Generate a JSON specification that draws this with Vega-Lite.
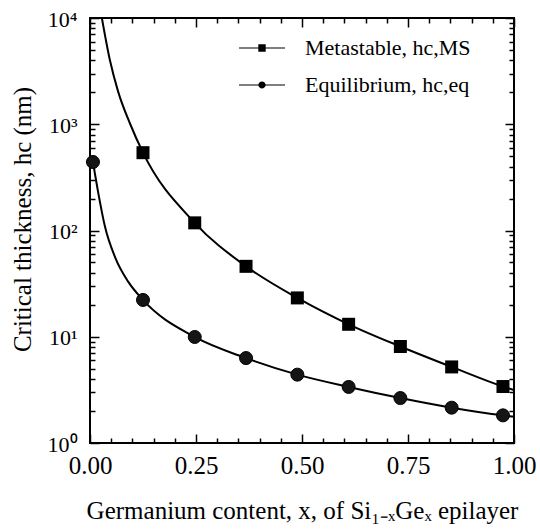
{
  "$schema": "https://vega.github.io/schema/vega-lite/v6.json",
  "width": 424,
  "height": 425,
  "autosize": {"type": "none"},
  "padding": {"left": 90, "top": 18, "right": 26, "bottom": 86},
  "background": "white",
  "config": {
    "view": {"stroke": "black", "strokeWidth": 2},
    "font": "Liberation Serif",
    "axis": {"domain": false, "grid": false, "tickColor": "black", "tickWidth": 1.5, "labelColor": "black", "titleColor": "black", "titleFontWeight": "normal", "labelFont": "Liberation Serif", "titleFont": "Liberation Serif"}
  },
  "datasets": {
    "curves": [
      {"series": "Metastable", "x": 0.028, "h": 10000},
      {"series": "Metastable", "x": 0.047, "h": 4000},
      {"series": "Metastable", "x": 0.066, "h": 2050},
      {"series": "Metastable", "x": 0.095, "h": 1000},
      {"series": "Metastable", "x": 0.125, "h": 540},
      {"series": "Metastable", "x": 0.247, "h": 118},
      {"series": "Metastable", "x": 0.368, "h": 46},
      {"series": "Metastable", "x": 0.489, "h": 23.2},
      {"series": "Metastable", "x": 0.61, "h": 13.1},
      {"series": "Metastable", "x": 0.732, "h": 8.1},
      {"series": "Metastable", "x": 0.853, "h": 5.2},
      {"series": "Metastable", "x": 0.974, "h": 3.4},
      {"series": "Metastable", "x": 1.0, "h": 3.15},
      {"series": "Equilibrium", "x": 0.007, "h": 441},
      {"series": "Equilibrium", "x": 0.02, "h": 220},
      {"series": "Equilibrium", "x": 0.035, "h": 110},
      {"series": "Equilibrium", "x": 0.06, "h": 55},
      {"series": "Equilibrium", "x": 0.09, "h": 33},
      {"series": "Equilibrium", "x": 0.125, "h": 22.2},
      {"series": "Equilibrium", "x": 0.247, "h": 9.95},
      {"series": "Equilibrium", "x": 0.368, "h": 6.3},
      {"series": "Equilibrium", "x": 0.489, "h": 4.4},
      {"series": "Equilibrium", "x": 0.61, "h": 3.37},
      {"series": "Equilibrium", "x": 0.732, "h": 2.65},
      {"series": "Equilibrium", "x": 0.853, "h": 2.15},
      {"series": "Equilibrium", "x": 0.974, "h": 1.82},
      {"series": "Equilibrium", "x": 1.0, "h": 1.77}
    ],
    "points": [
      {"series": "Metastable", "x": 0.125, "h": 540},
      {"series": "Metastable", "x": 0.247, "h": 118},
      {"series": "Metastable", "x": 0.368, "h": 46},
      {"series": "Metastable", "x": 0.489, "h": 23.2},
      {"series": "Metastable", "x": 0.61, "h": 13.1},
      {"series": "Metastable", "x": 0.732, "h": 8.1},
      {"series": "Metastable", "x": 0.853, "h": 5.2},
      {"series": "Metastable", "x": 0.974, "h": 3.4},
      {"series": "Equilibrium", "x": 0.007, "h": 441},
      {"series": "Equilibrium", "x": 0.125, "h": 22.2},
      {"series": "Equilibrium", "x": 0.247, "h": 9.95},
      {"series": "Equilibrium", "x": 0.368, "h": 6.3},
      {"series": "Equilibrium", "x": 0.489, "h": 4.4},
      {"series": "Equilibrium", "x": 0.61, "h": 3.37},
      {"series": "Equilibrium", "x": 0.732, "h": 2.65},
      {"series": "Equilibrium", "x": 0.853, "h": 2.15},
      {"series": "Equilibrium", "x": 0.974, "h": 1.82}
    ]
  },
  "resolve": {"axis": {"x": "independent", "y": "independent"}},
  "layer": [
    {
      "data": {"name": "curves"},
      "mark": {"type": "line", "interpolate": "monotone", "color": "black", "strokeWidth": 2, "clip": true},
      "encoding": {
        "x": {"field": "x", "type": "quantitative", "scale": {"domain": [0, 1], "nice": false, "zero": false},
          "axis": {"orient": "bottom", "values": [0, 0.25, 0.5, 0.75, 1], "format": ".2f", "tickSize": -9, "labelFontSize": 25, "labelPadding": 19, "labelFlush": false, "labelOverlap": false,
            "title": "Germanium content, x, of Si₁₋ₓGeₓ epilayer", "titleFontSize": 25, "titlePadding": 20}},
        "y": {"field": "h", "type": "quantitative", "scale": {"type": "log", "domain": [1, 10000], "nice": false},
          "axis": {"orient": "left", "values": [1, 10, 100, 1000, 10000], "tickSize": -9, "labelFontSize": 22, "labelPadding": 22, "labelOffset": 1, "labelOverlap": false, "labelFlush": false,
            "labelExpr": "datum.value == 1 ? '10⁰' : datum.value == 10 ? '10¹' : datum.value == 100 ? '10²' : datum.value == 1000 ? '10³' : '10⁴'",
            "title": "Critical thickness, hc (nm)", "titleFontSize": 25, "titlePadding": 12, "titleY": 201}},
        "detail": {"field": "series"}
      }
    },
    {
      "data": {"name": "points"},
      "transform": [{"filter": "datum.series == 'Metastable'"}],
      "mark": {"type": "point", "filled": true, "color": "black", "opacity": 1, "size": 169, "shape": "square"},
      "encoding": {
        "x": {"field": "x", "type": "quantitative", "axis": {"orient": "top", "values": [0, 0.25, 0.5, 0.75, 1], "tickSize": -9, "labels": false, "title": null}},
        "y": {"field": "h", "type": "quantitative", "axis": {"orient": "right", "values": [1, 10, 100, 1000, 10000], "tickSize": -9, "labels": false, "title": null}}
      }
    },
    {
      "data": {"name": "points"},
      "transform": [{"filter": "datum.series == 'Equilibrium'"}],
      "mark": {"type": "point", "filled": true, "color": "#151515", "opacity": 1, "size": 169, "shape": "circle", "stroke": "black", "strokeWidth": 1},
      "encoding": {
        "x": {"field": "x", "type": "quantitative", "axis": null},
        "y": {"field": "h", "type": "quantitative", "axis": null}
      }
    },
    {
      "data": {"name": "points"},
      "mark": {"type": "point", "opacity": 0},
      "encoding": {
        "x": {"field": "x", "type": "quantitative", "axis": {"orient": "bottom", "values": [0.05, 0.1, 0.15, 0.2, 0.3, 0.35, 0.4, 0.45, 0.55, 0.6, 0.65, 0.7, 0.8, 0.85, 0.9, 0.95], "tickSize": -5, "labels": false, "title": null}},
        "y": {"field": "h", "type": "quantitative", "axis": {"orient": "left", "values": [2, 3, 4, 5, 6, 7, 8, 9, 20, 30, 40, 50, 60, 70, 80, 90, 200, 300, 400, 500, 600, 700, 800, 900, 2000, 3000, 4000, 5000, 6000, 7000, 8000, 9000], "tickSize": -5, "labels": false, "title": null}}
      }
    },
    {
      "data": {"name": "points"},
      "mark": {"type": "point", "opacity": 0},
      "encoding": {
        "x": {"field": "x", "type": "quantitative", "axis": {"orient": "top", "values": [0.05, 0.1, 0.15, 0.2, 0.3, 0.35, 0.4, 0.45, 0.55, 0.6, 0.65, 0.7, 0.8, 0.85, 0.9, 0.95], "tickSize": -5, "labels": false, "title": null}},
        "y": {"field": "h", "type": "quantitative", "axis": {"orient": "right", "values": [2, 3, 4, 5, 6, 7, 8, 9, 20, 30, 40, 50, 60, 70, 80, 90, 200, 300, 400, 500, 600, 700, 800, 900, 2000, 3000, 4000, 5000, 6000, 7000, 8000, 9000], "tickSize": -5, "labels": false, "title": null}}
      }
    },
    {
      "data": {"name": "points"},
      "transform": [{"filter": "datum.x > 5"}],
      "mark": {"type": "point", "filled": true, "color": "black", "opacity": 1, "size": 340},
      "encoding": {
        "x": {"field": "x", "type": "quantitative", "axis": null},
        "y": {"field": "h", "type": "quantitative", "axis": null},
        "shape": {"field": "series", "type": "nominal",
          "scale": {"domain": ["Metastable", "Equilibrium"], "range": ["M-2.5,-0.06H-0.4V-0.4H0.4V-0.06H2.5V0.06H0.4V0.4H-0.4V0.06H-2.5Z", "M-2.5,-0.06H-0.39A0.4,0.4 0 0 1 0.39,-0.06H2.5V0.06H0.39A0.4,0.4 0 0 1 -0.39,0.06H-2.5Z"]},
          "legend": {"orient": "none", "legendX": 161, "legendY": 19, "title": null, "symbolSize": 340, "symbolStrokeWidth": 0, "symbolFillColor": "black", "symbolOpacity": 1, "labelFontSize": 22, "labelFont": "Liberation Serif", "labelColor": "black", "labelOffset": 32, "rowPadding": 15, "labelLimit": 400,
            "labelExpr": "datum.value == 'Metastable' ? 'Metastable, hc,MS' : 'Equilibrium, hc,eq'"}
        }
      }
    }
  ]
}
